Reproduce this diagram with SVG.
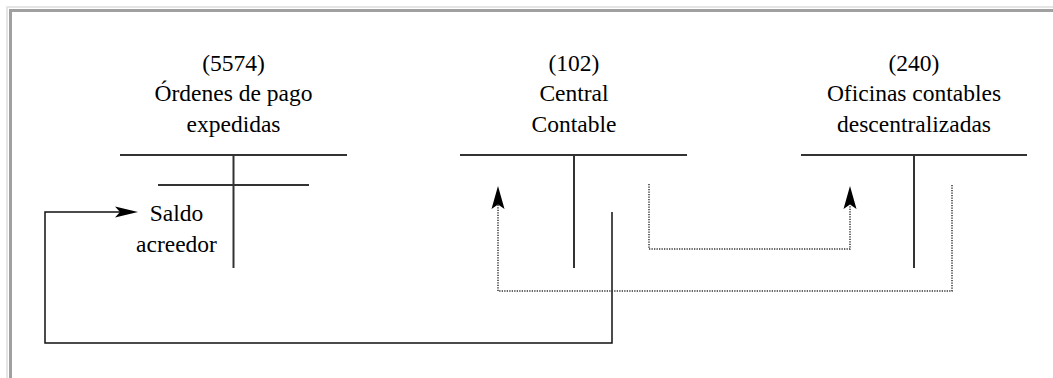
<svg xmlns="http://www.w3.org/2000/svg" width="1053" height="378" viewBox="0 0 1053 378">
<style>
text{font-family:'Liberation Serif','Times New Roman','DejaVu Serif',serif;font-size:23.5px;fill:#000;text-anchor:middle}
.tl{stroke:#333;stroke-width:2;fill:none}
.sol{stroke:#111;stroke-width:1.5;fill:none}
.dot{stroke:#333;stroke-width:1.5;stroke-dasharray:1.3 1.2;fill:none}
</style>
<rect width="1053" height="378" fill="#fff"/>
<g id="frame">
<path d="M7,378 V7 H1053" stroke="#ddd" stroke-width="1.5" fill="none"/>
<path d="M10.5,378 V10.5 H1053" stroke="#a0a0a0" stroke-width="3" fill="none"/>
</g>
<g id="account-5574" font-family="Liberation Serif, serif">
<text x="233.5" y="70.5">(5574)</text>
<text x="233.5" y="101">Órdenes de pago</text>
<text x="233.5" y="131.5">expedidas</text>
<line class="tl" x1="120" y1="155" x2="347" y2="155"/>
<line class="tl" x1="233.5" y1="155" x2="233.5" y2="268"/>
<line class="tl" x1="158" y1="185" x2="309" y2="185"/>
<text x="176.5" y="221">Saldo</text>
<text x="176.5" y="251.5">acreedor</text>
</g>
<g id="account-102" font-family="Liberation Serif, serif">
<text x="574" y="70.5">(102)</text>
<text x="574" y="101">Central</text>
<text x="574" y="131.5">Contable</text>
<line class="tl" x1="460" y1="155" x2="687" y2="155"/>
<line class="tl" x1="574" y1="155" x2="574" y2="268"/>
</g>
<g id="account-240" font-family="Liberation Serif, serif">
<text x="914" y="70.5">(240)</text>
<text x="914" y="101">Oficinas contables</text>
<text x="914" y="131.5">descentralizadas</text>
<line class="tl" x1="801" y1="155" x2="1027" y2="155"/>
<line class="tl" x1="914" y1="155" x2="914" y2="268"/>
</g>
<g id="connectors">
<path class="sol" d="M612,212 V343 H45 V212 H122"/>
<polygon points="138,212 115,206.5 120,212 115,217.5" fill="#000"/>
<path class="dot" d="M649,184 V249 H850 V205"/>
<polygon points="850,186 856.5,209 850,204.5 843.5,209" fill="#000"/>
<path class="dot" d="M952,185 V291 H498 V205"/>
<polygon points="498,186 504.5,209 498,204.5 491.5,209" fill="#000"/>
</g>
</svg>
